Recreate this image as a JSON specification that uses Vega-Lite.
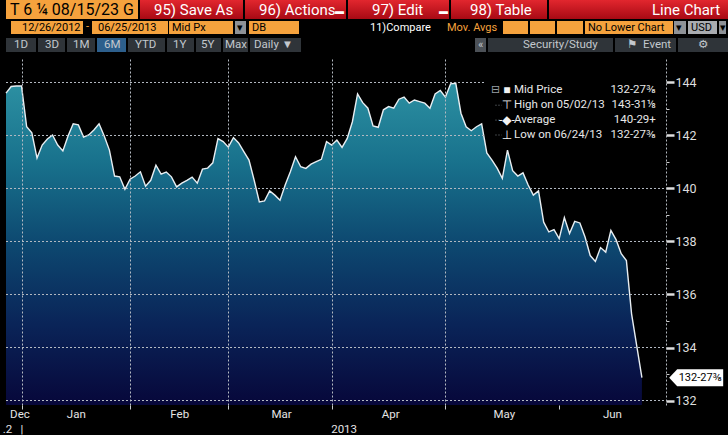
{
  "$schema": "https://vega.github.io/schema/vega-lite/v6.json",
  "background": "#000000",
  "padding": 0,
  "spacing": 0,
  "config": {
    "view": {"stroke": null},
    "font": "Roboto, Liberation Sans, DejaVu Sans, sans-serif",
    "concat": {"spacing": 0}
  },
  "datasets": {
    "prices": [
      {"date":"2012-12-26","i":0,"price":143.60},{"date":"2012-12-27","i":1,"price":143.85},{"date":"2012-12-28","i":2,"price":143.87},{"date":"2012-12-31","i":3,"price":143.87},
      {"date":"2013-01-02","i":4,"price":142.33},{"date":"2013-01-03","i":5,"price":142.10},{"date":"2013-01-04","i":6,"price":141.15},{"date":"2013-01-07","i":7,"price":141.64},{"date":"2013-01-08","i":8,"price":141.87},{"date":"2013-01-09","i":9,"price":142.02},{"date":"2013-01-10","i":10,"price":141.64},{"date":"2013-01-11","i":11,"price":141.42},{"date":"2013-01-14","i":12,"price":141.98},{"date":"2013-01-15","i":13,"price":142.44},{"date":"2013-01-16","i":14,"price":142.40},{"date":"2013-01-17","i":15,"price":141.94},{"date":"2013-01-18","i":16,"price":142.02},{"date":"2013-01-22","i":17,"price":142.21},{"date":"2013-01-23","i":18,"price":142.44},{"date":"2013-01-24","i":19,"price":141.98},{"date":"2013-01-25","i":20,"price":141.45},{"date":"2013-01-28","i":21,"price":140.47},{"date":"2013-01-29","i":22,"price":140.44},{"date":"2013-01-30","i":23,"price":139.97},{"date":"2013-01-31","i":24,"price":140.35},
      {"date":"2013-02-01","i":25,"price":140.47},{"date":"2013-02-04","i":26,"price":140.63},{"date":"2013-02-05","i":27,"price":140.09},{"date":"2013-02-06","i":28,"price":140.31},{"date":"2013-02-07","i":29,"price":140.88},{"date":"2013-02-08","i":30,"price":140.54},{"date":"2013-02-11","i":31,"price":140.62},{"date":"2013-02-12","i":32,"price":140.44},{"date":"2013-02-13","i":33,"price":140.06},{"date":"2013-02-14","i":34,"price":140.20},{"date":"2013-02-15","i":35,"price":140.31},{"date":"2013-02-19","i":36,"price":140.43},{"date":"2013-02-20","i":37,"price":140.20},{"date":"2013-02-21","i":38,"price":140.73},{"date":"2013-02-22","i":39,"price":140.77},{"date":"2013-02-25","i":40,"price":140.97},{"date":"2013-02-26","i":41,"price":141.88},{"date":"2013-02-27","i":42,"price":141.77},{"date":"2013-02-28","i":43,"price":141.56},
      {"date":"2013-03-01","i":44,"price":141.92},{"date":"2013-03-04","i":45,"price":141.72},{"date":"2013-03-05","i":46,"price":141.39},{"date":"2013-03-06","i":47,"price":141.07},{"date":"2013-03-07","i":48,"price":140.31},{"date":"2013-03-08","i":49,"price":139.49},{"date":"2013-03-11","i":50,"price":139.53},{"date":"2013-03-12","i":51,"price":139.91},{"date":"2013-03-13","i":52,"price":139.75},{"date":"2013-03-14","i":53,"price":139.56},{"date":"2013-03-15","i":54,"price":140.13},{"date":"2013-03-18","i":55,"price":140.63},{"date":"2013-03-19","i":56,"price":141.20},{"date":"2013-03-20","i":57,"price":140.82},{"date":"2013-03-21","i":58,"price":140.76},{"date":"2013-03-22","i":59,"price":140.92},{"date":"2013-03-25","i":60,"price":141.01},{"date":"2013-03-26","i":61,"price":141.10},{"date":"2013-03-27","i":62,"price":141.77},{"date":"2013-03-28","i":63,"price":141.64},
      {"date":"2013-04-01","i":64,"price":141.83},{"date":"2013-04-02","i":65,"price":141.55},{"date":"2013-04-03","i":66,"price":141.89},{"date":"2013-04-04","i":67,"price":142.52},{"date":"2013-04-05","i":68,"price":143.57},{"date":"2013-04-08","i":69,"price":143.24},{"date":"2013-04-09","i":70,"price":143.03},{"date":"2013-04-10","i":71,"price":142.36},{"date":"2013-04-11","i":72,"price":142.31},{"date":"2013-04-12","i":73,"price":142.97},{"date":"2013-04-15","i":74,"price":143.09},{"date":"2013-04-16","i":75,"price":143.03},{"date":"2013-04-17","i":76,"price":143.37},{"date":"2013-04-18","i":77,"price":143.45},{"date":"2013-04-19","i":78,"price":143.22},{"date":"2013-04-22","i":79,"price":143.34},{"date":"2013-04-23","i":80,"price":143.28},{"date":"2013-04-24","i":81,"price":143.22},{"date":"2013-04-25","i":82,"price":143.03},{"date":"2013-04-26","i":83,"price":143.57},{"date":"2013-04-29","i":84,"price":143.70},{"date":"2013-04-30","i":85,"price":143.45},
      {"date":"2013-05-01","i":86,"price":143.95},{"date":"2013-05-02","i":87,"price":143.97},{"date":"2013-05-03","i":88,"price":142.84},{"date":"2013-05-06","i":89,"price":142.33},{"date":"2013-05-07","i":90,"price":142.18},{"date":"2013-05-08","i":91,"price":142.33},{"date":"2013-05-09","i":92,"price":142.44},{"date":"2013-05-10","i":93,"price":141.34},{"date":"2013-05-13","i":94,"price":141.07},{"date":"2013-05-14","i":95,"price":140.77},{"date":"2013-05-15","i":96,"price":140.38},{"date":"2013-05-16","i":97,"price":141.45},{"date":"2013-05-17","i":98,"price":140.67},{"date":"2013-05-20","i":99,"price":140.47},{"date":"2013-05-21","i":100,"price":140.59},{"date":"2013-05-22","i":101,"price":140.13},{"date":"2013-05-23","i":102,"price":139.75},{"date":"2013-05-24","i":103,"price":139.91},{"date":"2013-05-28","i":104,"price":138.73},{"date":"2013-05-29","i":105,"price":138.36},{"date":"2013-05-30","i":106,"price":138.45},{"date":"2013-05-31","i":107,"price":138.11},
      {"date":"2013-06-03","i":108,"price":138.90},{"date":"2013-06-04","i":109,"price":138.30},{"date":"2013-06-05","i":110,"price":138.76},{"date":"2013-06-06","i":111,"price":138.70},{"date":"2013-06-07","i":112,"price":138.17},{"date":"2013-06-10","i":113,"price":137.47},{"date":"2013-06-11","i":114,"price":137.25},{"date":"2013-06-12","i":115,"price":137.77},{"date":"2013-06-13","i":116,"price":137.60},{"date":"2013-06-14","i":117,"price":138.42},{"date":"2013-06-17","i":118,"price":138.07},{"date":"2013-06-18","i":119,"price":137.54},{"date":"2013-06-19","i":120,"price":137.28},{"date":"2013-06-20","i":121,"price":135.27},{"date":"2013-06-21","i":122,"price":134.06},{"date":"2013-06-24","i":123,"price":132.86}
    ],
    "legendRows": [
      {"order":1,"icon":"■","label":"Mid Price","value":"132-27⅜"},
      {"order":2,"icon":"⊤","label":"High on 05/02/13","value":"143-31⅛"},
      {"order":3,"icon":"-◆-","label":"Average","value":"140-29+"},
      {"order":4,"icon":"⊥","label":"Low on 06/24/13","value":"132-27⅜"}
    ],
    "hdrBoxes": [
      {"x0":0,"x1":132,"top":0,"bottom":19,"kind":"orange"},
      {"x0":134,"x1":237,"top":0,"bottom":19,"kind":"red"},
      {"x0":239,"x1":340,"top":0,"bottom":19,"kind":"red"},
      {"x0":342,"x1":443,"top":0,"bottom":19,"kind":"red"},
      {"x0":445,"x1":541,"top":0,"bottom":19,"kind":"red"},
      {"x0":543,"x1":728,"top":0,"bottom":19,"kind":"red"},
      {"x0":5,"x1":77,"top":21,"bottom":34,"kind":"orange"},
      {"x0":86,"x1":162,"top":21,"bottom":34,"kind":"orange"},
      {"x0":163,"x1":227,"top":21,"bottom":34,"kind":"orange"},
      {"x0":229,"x1":240,"top":21,"bottom":34,"kind":"grey"},
      {"x0":243,"x1":293,"top":21,"bottom":34,"kind":"orange"},
      {"x0":497,"x1":522,"top":21,"bottom":34,"kind":"orange"},
      {"x0":524,"x1":549,"top":21,"bottom":34,"kind":"orange"},
      {"x0":551,"x1":577,"top":21,"bottom":34,"kind":"orange"},
      {"x0":579,"x1":667,"top":21,"bottom":34,"kind":"orange"},
      {"x0":668,"x1":680,"top":21,"bottom":34,"kind":"grey"},
      {"x0":682,"x1":711,"top":21,"bottom":34,"kind":"lightgrey"},
      {"x0":713,"x1":720,"top":21,"bottom":34,"kind":"grey"},
      {"x0":0,"x1":30,"top":38,"bottom":52,"kind":"tab"},
      {"x0":32,"x1":59,"top":38,"bottom":52,"kind":"tab"},
      {"x0":61,"x1":89,"top":38,"bottom":52,"kind":"tab"},
      {"x0":91,"x1":120,"top":38,"bottom":52,"kind":"tabsel"},
      {"x0":122,"x1":159,"top":38,"bottom":52,"kind":"tab"},
      {"x0":161,"x1":188,"top":38,"bottom":52,"kind":"tab"},
      {"x0":190,"x1":215,"top":38,"bottom":52,"kind":"tab"},
      {"x0":217,"x1":242,"top":38,"bottom":52,"kind":"tab"},
      {"x0":244,"x1":295,"top":38,"bottom":52,"kind":"tab"},
      {"x0":469,"x1":480,"top":38,"bottom":52,"kind":"tabdark"},
      {"x0":482,"x1":607,"top":38,"bottom":52,"kind":"tab"},
      {"x0":609,"x1":670,"top":38,"bottom":52,"kind":"tab"},
      {"x0":672,"x1":728,"top":38,"bottom":52,"kind":"tab"}
    ],
    "hdrText": [
      {"x":4,"y":10,"text":"T 6 ¼ 08/15/23 G","kind":"dark","row":0},
      {"x":148,"y":10,"text":"95) Save As","kind":"white","row":1},
      {"x":253,"y":10,"text":"96) Actions","kind":"white","row":1},
      {"x":366,"y":10,"text":"97) Edit","kind":"white","row":1},
      {"x":464,"y":10,"text":"98) Table","kind":"white","row":1},
      {"x":646,"y":10,"text":"Line Chart","kind":"white","row":1},
      {"x":329,"y":11,"text":"▬","kind":"white","row":4},
      {"x":433,"y":11,"text":"▬","kind":"white","row":4},
      {"x":16,"y":28,"text":"12/26/2012","kind":"dark","row":2},
      {"x":80,"y":27,"text":"-","kind":"orange","row":2},
      {"x":92,"y":28,"text":"06/25/2013","kind":"dark","row":2},
      {"x":166,"y":28,"text":"Mid Px","kind":"dark","row":2},
      {"x":231,"y":28,"text":"▾","kind":"dark","row":2},
      {"x":246,"y":28,"text":"DB","kind":"dark","row":2},
      {"x":364,"y":28,"text":"11)Compare","kind":"white","row":2},
      {"x":441,"y":28,"text":"Mov. Avgs","kind":"orange","row":2},
      {"x":582,"y":28,"text":"No Lower Chart","kind":"dark","row":2},
      {"x":670,"y":28,"text":"▾","kind":"dark","row":2},
      {"x":685,"y":28,"text":"USD","kind":"dark","row":2},
      {"x":714,"y":28,"text":"▾","kind":"dark","row":2},
      {"x":8,"y":45,"text":"1D","kind":"light","row":3},
      {"x":39,"y":45,"text":"3D","kind":"light","row":3},
      {"x":67,"y":45,"text":"1M","kind":"light","row":3},
      {"x":98,"y":45,"text":"6M","kind":"light","row":3},
      {"x":129,"y":45,"text":"YTD","kind":"light","row":3},
      {"x":167,"y":45,"text":"1Y","kind":"light","row":3},
      {"x":195,"y":45,"text":"5Y","kind":"light","row":3},
      {"x":219,"y":45,"text":"Max","kind":"light","row":3},
      {"x":248,"y":45,"text":"Daily ▼","kind":"light","row":3},
      {"x":472,"y":45,"text":"«","kind":"light","row":3},
      {"x":517,"y":45,"text":"Security/Study","kind":"light","row":3},
      {"x":621,"y":45,"text":"⚑","kind":"light","row":3},
      {"x":637,"y":45,"text":"Event","kind":"light","row":3},
      {"x":692,"y":45,"text":"⚙","kind":"light","row":3}
    ]
  },
  "vconcat": [
    {
      "width": 728,
      "height": 58,
      "resolve": {"scale": {"color": "independent"}},
      "layer": [
        {
          "data": {"name": "hdrBoxes"},
          "transform": [{"filter": "datum.kind !== 'red'"}],
          "mark": {"type": "rect"},
          "encoding": {
            "x": {"field": "x0", "type": "quantitative", "scale": {"domain": [0, 728], "nice": false, "zero": false}, "axis": null},
            "x2": {"field": "x1"},
            "y": {"field": "top", "type": "quantitative", "scale": {"domain": [0, 58], "nice": false, "zero": false, "reverse": true}, "axis": null},
            "y2": {"field": "bottom"},
            "color": {"field": "kind", "type": "nominal", "scale": {"domain": ["orange", "grey", "lightgrey", "tab", "tabsel", "tabdark"], "range": ["#f5a23d", "#8e9297", "#a9acb0", "#2f3439", "#2d5f8c", "#4c5157"]}, "legend": null}
          }
        },
        {
          "data": {"name": "hdrBoxes"},
          "transform": [{"filter": "datum.kind === 'red'"}],
          "mark": {"type": "rect", "color": {"gradient": "linear", "x1": 0, "y1": 0, "x2": 0, "y2": 1, "stops": [{"offset": 0, "color": "#e2262e"}, {"offset": 1, "color": "#a80a14"}]}},
          "encoding": {
            "x": {"field": "x0", "type": "quantitative", "scale": {"domain": [0, 728], "nice": false, "zero": false}, "axis": null},
            "x2": {"field": "x1"},
            "y": {"field": "top", "type": "quantitative", "scale": {"domain": [0, 58], "nice": false, "zero": false, "reverse": true}, "axis": null},
            "y2": {"field": "bottom"}
          }
        },
        {
          "data": {"name": "hdrText"},
          "transform": [{"filter": "datum.row === 0"}],
          "mark": {"type": "text", "align": "left", "baseline": "middle", "fontSize": 16},
          "encoding": {
            "x": {"field": "x", "type": "quantitative", "scale": {"domain": [0, 728], "nice": false, "zero": false}, "axis": null},
            "y": {"field": "y", "type": "quantitative", "scale": {"domain": [0, 58], "nice": false, "zero": false, "reverse": true}, "axis": null},
            "text": {"field": "text"},
            "color": {"field": "kind", "type": "nominal", "scale": {"domain": ["dark", "white", "orange", "light"], "range": ["#000000", "#ffffff", "#f5a23d", "#c3c8cd"]}, "legend": null}
          }
        },
        {
          "data": {"name": "hdrText"},
          "transform": [{"filter": "datum.row === 1"}],
          "mark": {"type": "text", "align": "left", "baseline": "middle", "fontSize": 15},
          "encoding": {
            "x": {"field": "x", "type": "quantitative", "scale": {"domain": [0, 728], "nice": false, "zero": false}, "axis": null},
            "y": {"field": "y", "type": "quantitative", "scale": {"domain": [0, 58], "nice": false, "zero": false, "reverse": true}, "axis": null},
            "text": {"field": "text"},
            "color": {"field": "kind", "type": "nominal", "scale": {"domain": ["dark", "white", "orange", "light"], "range": ["#000000", "#ffffff", "#f5a23d", "#c3c8cd"]}, "legend": null}
          }
        },
        {
          "data": {"name": "hdrText"},
          "transform": [{"filter": "datum.row === 2"}],
          "mark": {"type": "text", "align": "left", "baseline": "middle", "fontSize": 11},
          "encoding": {
            "x": {"field": "x", "type": "quantitative", "scale": {"domain": [0, 728], "nice": false, "zero": false}, "axis": null},
            "y": {"field": "y", "type": "quantitative", "scale": {"domain": [0, 58], "nice": false, "zero": false, "reverse": true}, "axis": null},
            "text": {"field": "text"},
            "color": {"field": "kind", "type": "nominal", "scale": {"domain": ["dark", "white", "orange", "light"], "range": ["#000000", "#ffffff", "#f5a23d", "#c3c8cd"]}, "legend": null}
          }
        },
        {
          "data": {"name": "hdrText"},
          "transform": [{"filter": "datum.row === 3"}],
          "mark": {"type": "text", "align": "left", "baseline": "middle", "fontSize": 11.5},
          "encoding": {
            "x": {"field": "x", "type": "quantitative", "scale": {"domain": [0, 728], "nice": false, "zero": false}, "axis": null},
            "y": {"field": "y", "type": "quantitative", "scale": {"domain": [0, 58], "nice": false, "zero": false, "reverse": true}, "axis": null},
            "text": {"field": "text"},
            "color": {"field": "kind", "type": "nominal", "scale": {"domain": ["dark", "white", "orange", "light"], "range": ["#000000", "#ffffff", "#f5a23d", "#c3c8cd"]}, "legend": null}
          }
        },
        {
          "data": {"name": "hdrText"},
          "transform": [{"filter": "datum.row === 4"}],
          "mark": {"type": "text", "align": "left", "baseline": "middle", "fontSize": 9},
          "encoding": {
            "x": {"field": "x", "type": "quantitative", "scale": {"domain": [0, 728], "nice": false, "zero": false}, "axis": null},
            "y": {"field": "y", "type": "quantitative", "scale": {"domain": [0, 58], "nice": false, "zero": false, "reverse": true}, "axis": null},
            "text": {"field": "text"},
            "color": {"field": "kind", "type": "nominal", "scale": {"domain": ["dark", "white", "orange", "light"], "range": ["#000000", "#ffffff", "#f5a23d", "#c3c8cd"]}, "legend": null}
          }
        }
      ]
    },
    {
      "width": 717,
      "height": 347,
      "resolve": {"scale": {"y": "independent"}, "axis": {"x": "independent", "y": "independent"}},
      "layer": [
        {
          "resolve": {"axis": {"x": "independent", "y": "independent"}},
          "layer": [
            {
              "mark": {"type": "rect", "color": {"gradient": "linear", "x1": 0, "y1": 0, "x2": 0, "y2": 1, "stops": [{"offset": 0, "color": "#282e35"}, {"offset": 0.5, "color": "#16191d"}, {"offset": 1, "color": "#040406"}]}},
              "encoding": {
                "x": {"datum": 0, "type": "quantitative", "scale": {"domain": [0, 138.685], "nice": false, "zero": false},
                  "axis": {"orient": "bottom", "values": [0.2, 3, 65.3], "labelExpr": "datum.value < 1 ? '.2' : datum.value < 10 ? '|' : '2013'", "ticks": false, "tickSize": 0, "domain": false, "grid": false, "labelPadding": 18, "labelFontSize": 11.5, "labelColor": "#e4e4e4", "labelFlush": false, "labelOverlap": false, "title": null, "zindex": 1}},
                "x2": {"datum": 127.7},
                "y": {"datum": 144.9245, "type": "quantitative", "scale": {"domain": [131.8302, 144.9245], "nice": false, "zero": false},
                  "axis": {"orient": "left", "values": [140], "labels": false, "domain": false, "grid": false, "ticks": true, "tickSize": 5, "tickColor": "#000000", "title": null}},
                "y2": {"datum": 131.8302}
              }
            },
            {
              "data": {"name": "prices"},
              "mark": {"type": "area", "color": {"gradient": "linear", "x1": 0, "y1": 0, "x2": 0, "y2": 1, "stops": [{"offset": 0, "color": "#2c90a2"}, {"offset": 0.25, "color": "#18718c"}, {"offset": 0.5, "color": "#0d4870"}, {"offset": 0.75, "color": "#0a2458"}, {"offset": 1, "color": "#07073a"}]}},
              "encoding": {
                "x": {"field": "i", "type": "quantitative", "scale": {"domain": [0, 138.685], "nice": false, "zero": false},
                  "axis": {"orient": "bottom", "values": [3, 24, 43, 63, 85, 107], "labels": false, "grid": false, "ticks": true, "tickSize": 4, "tickColor": "#c8ccd0", "domain": false, "title": null, "zindex": 1}},
                "y": {"field": "price", "type": "quantitative", "scale": {"domain": [131.8302, 144.9245], "nice": false, "zero": false},
                  "axis": {"orient": "right", "offset": -57, "values": [132, 134, 136, 138, 140, 142, 144], "grid": false, "ticks": true, "tickSize": 8, "tickWidth": 2.5, "tickColor": "#dedede", "labelColor": "#dedede", "labelFontSize": 12.5, "labelPadding": 1, "domain": true, "domainColor": "#b0b6bd", "domainDash": [2, 2], "title": null, "zindex": 1}},
                "y2": {"datum": 131.8302}
              }
            },
            {
              "data": {"name": "prices"},
              "mark": {"type": "line", "color": "#e8eef2", "strokeWidth": 1.4},
              "encoding": {
                "x": {"field": "i", "type": "quantitative", "scale": {"domain": [0, 138.685], "nice": false, "zero": false},
                  "axis": {"orient": "bottom", "values": [2.6, 13.5, 33.5, 53.2, 74.3, 96.3, 117.2], "labelExpr": "datum.value < 3 ? 'Dec' : datum.value < 24 ? 'Jan' : datum.value < 43 ? 'Feb' : datum.value < 63 ? 'Mar' : datum.value < 85 ? 'Apr' : datum.value < 107 ? 'May' : 'Jun'", "ticks": false, "tickSize": 0, "domain": false, "grid": false, "labelPadding": 3, "labelFontSize": 11.5, "labelColor": "#e4e4e4", "labelFlush": false, "labelOverlap": false, "title": null, "zindex": 1}},
                "y": {"field": "price", "type": "quantitative", "scale": {"domain": [131.8302, 144.9245], "nice": false, "zero": false}, "axis": null}
              }
            },
            {
              "data": {"values": [{"b": 3}, {"b": 24}, {"b": 43}, {"b": 63}, {"b": 85}]},
              "mark": {"type": "rule", "opacity": 0},
              "encoding": {
                "x": {"field": "b", "type": "quantitative", "scale": {"domain": [0, 138.685], "nice": false, "zero": false},
                  "axis": {"orient": "bottom", "values": [3, 24, 43, 63, 85], "labels": false, "ticks": false, "domain": false, "grid": true, "gridColor": "#b4bac2", "gridDash": [2, 2], "gridWidth": 1, "gridOpacity": 1, "title": null, "zindex": 1}}
              }
            },
            {
              "mark": {"type": "rule", "color": "#b4bac2", "strokeDash": [2, 2], "strokeWidth": 1},
              "encoding": {
                "x": {"datum": 107.06, "type": "quantitative", "scale": {"domain": [0, 138.685], "nice": false, "zero": false}, "axis": null},
                "y": {"datum": 131.8302, "type": "quantitative", "scale": {"domain": [131.8302, 144.9245], "nice": false, "zero": false}, "axis": null},
                "y2": {"datum": 141.566}
              }
            },
            {
              "data": {"values": [{"g": 132}, {"g": 134}, {"g": 136}, {"g": 138}, {"g": 140}]},
              "mark": {"type": "rule", "color": "#b4bac2", "strokeDash": [2, 2], "strokeWidth": 1},
              "encoding": {
                "x": {"datum": 0, "type": "quantitative", "scale": {"domain": [0, 138.685], "nice": false, "zero": false}, "axis": null},
                "x2": {"datum": 127.7},
                "y": {"field": "g", "type": "quantitative", "scale": {"domain": [131.8302, 144.9245], "nice": false, "zero": false},
                  "axis": {"orient": "right", "offset": -57, "values": [133, 135, 137, 139, 141, 143], "labels": false, "domain": false, "grid": false, "ticks": true, "tickSize": 3, "tickColor": "#cfcfcf", "title": null, "zindex": 1}}
              }
            },
            {
              "data": {"values": [{"g": 142}, {"g": 144}]},
              "mark": {"type": "rule", "color": "#b4bac2", "strokeDash": [2, 2], "strokeWidth": 1},
              "encoding": {
                "x": {"datum": 0, "type": "quantitative", "scale": {"domain": [0, 138.685], "nice": false, "zero": false}, "axis": null},
                "x2": {"datum": 92.75},
                "y": {"field": "g", "type": "quantitative", "scale": {"domain": [131.8302, 144.9245], "nice": false, "zero": false}, "axis": null}
              }
            },
            {
              "mark": {"type": "rule", "color": "#c8ccd0", "strokeWidth": 1},
              "encoding": {
                "x": {"datum": 0, "type": "quantitative", "scale": {"domain": [0, 138.685], "nice": false, "zero": false}, "axis": null},
                "x2": {"datum": 127.7},
                "y": {"datum": 131.849, "type": "quantitative", "scale": {"domain": [131.8302, 144.9245], "nice": false, "zero": false}, "axis": null}
              }
            },
            {
              "data": {"name": "prices"},
              "transform": [{"filter": "datum.i === 123"}],
              "mark": {"type": "point", "shape": "M -1 0 L -0.704 -0.315 L 1 -0.315 L 1 0.315 L -0.704 0.315 Z", "filled": true, "color": "#ffffff", "opacity": 1, "size": 2916},
              "encoding": {
                "x": {"datum": 133.5, "type": "quantitative", "scale": {"domain": [0, 138.685], "nice": false, "zero": false}, "axis": null},
                "y": {"field": "price", "type": "quantitative", "scale": {"domain": [131.8302, 144.9245], "nice": false, "zero": false}, "axis": null}
              }
            },
            {
              "data": {"name": "prices"},
              "transform": [{"filter": "datum.i === 123"}],
              "mark": {"type": "text", "color": "#000000", "fontSize": 11, "align": "center", "baseline": "middle"},
              "encoding": {
                "x": {"datum": 134.3, "type": "quantitative", "scale": {"domain": [0, 138.685], "nice": false, "zero": false}, "axis": null},
                "y": {"field": "price", "type": "quantitative", "scale": {"domain": [131.8302, 144.9245], "nice": false, "zero": false}, "axis": null},
                "text": {"value": "132-27⅜"}
              }
            }
          ]
        },
        {
          "layer": [
            {
              "mark": {"type": "rect", "fill": "#181b1f", "stroke": "#686e75", "strokeWidth": 1},
              "encoding": {
                "x": {"datum": 92.75, "type": "quantitative", "scale": {"domain": [0, 138.685], "nice": false, "zero": false}, "axis": null},
                "x2": {"datum": 127.18},
                "y": {"datum": 0.2078, "type": "quantitative", "scale": {"domain": [-1.168, 22.12], "nice": false, "zero": false, "reverse": true}, "axis": null},
                "y2": {"datum": 4.839}
              }
            },
            {
              "mark": {"type": "rule", "color": "#7a8087", "strokeDash": [1, 2]},
              "encoding": {
                "x": {"datum": 94.68, "type": "quantitative", "scale": {"domain": [0, 138.685], "nice": false, "zero": false}, "axis": null},
                "y": {"datum": 1.45, "type": "quantitative", "scale": {"domain": [-1.168, 22.12], "nice": false, "zero": false, "reverse": true}, "axis": null},
                "y2": {"datum": 4.0}
              }
            },
            {
              "data": {"name": "legendRows"},
              "transform": [{"filter": "datum.order > 1"}],
              "mark": {"type": "rule", "color": "#7a8087", "strokeDash": [1, 2]},
              "encoding": {
                "x": {"datum": 94.68, "type": "quantitative", "scale": {"domain": [0, 138.685], "nice": false, "zero": false}, "axis": null},
                "x2": {"datum": 95.9},
                "y": {"field": "order", "type": "quantitative", "scale": {"domain": [-1.168, 22.12], "nice": false, "zero": false, "reverse": true}, "axis": null}
              }
            },
            {
              "data": {"name": "legendRows"},
              "transform": [{"filter": "datum.order === 1"}],
              "mark": {"type": "text", "color": "#9aa0a6", "fontSize": 11, "align": "center", "baseline": "middle"},
              "encoding": {
                "x": {"datum": 94.68, "type": "quantitative", "scale": {"domain": [0, 138.685], "nice": false, "zero": false}, "axis": null},
                "y": {"field": "order", "type": "quantitative", "scale": {"domain": [-1.168, 22.12], "nice": false, "zero": false, "reverse": true}, "axis": null},
                "text": {"value": "⊟"}
              }
            },
            {
              "data": {"name": "legendRows"},
              "mark": {"type": "text", "color": "#f2f2f2", "fontSize": 12, "align": "center", "baseline": "middle"},
              "encoding": {
                "x": {"datum": 96.9, "type": "quantitative", "scale": {"domain": [0, 138.685], "nice": false, "zero": false}, "axis": null},
                "y": {"field": "order", "type": "quantitative", "scale": {"domain": [-1.168, 22.12], "nice": false, "zero": false, "reverse": true}, "axis": null},
                "text": {"field": "icon"}
              }
            },
            {
              "data": {"name": "legendRows"},
              "mark": {"type": "text", "color": "#e8e8e8", "fontSize": 11.5, "align": "left", "baseline": "middle"},
              "encoding": {
                "x": {"datum": 98.26, "type": "quantitative", "scale": {"domain": [0, 138.685], "nice": false, "zero": false}, "axis": null},
                "y": {"field": "order", "type": "quantitative", "scale": {"domain": [-1.168, 22.12], "nice": false, "zero": false, "reverse": true}, "axis": null},
                "text": {"field": "label"}
              }
            },
            {
              "data": {"name": "legendRows"},
              "mark": {"type": "text", "color": "#e8e8e8", "fontSize": 11.5, "align": "right", "baseline": "middle"},
              "encoding": {
                "x": {"datum": 125.7, "type": "quantitative", "scale": {"domain": [0, 138.685], "nice": false, "zero": false}, "axis": null},
                "y": {"field": "order", "type": "quantitative", "scale": {"domain": [-1.168, 22.12], "nice": false, "zero": false, "reverse": true}, "axis": null},
                "text": {"field": "value"}
              }
            }
          ]
        }
      ]
    }
  ]
}
